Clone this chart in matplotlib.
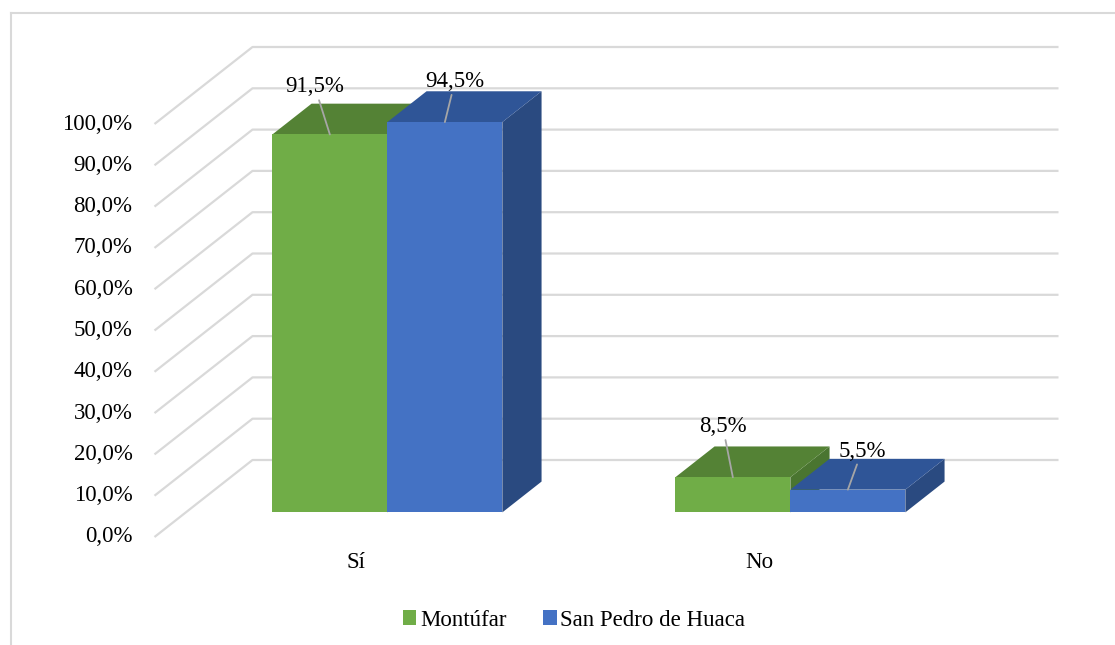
import matplotlib
matplotlib.use("Agg")
import matplotlib.pyplot as plt
from matplotlib.patches import Polygon, Patch
from matplotlib.lines import Line2D

# ---------------- data ----------------
categories = ["Sí", "No"]
series_names = ["Montúfar", "San Pedro de Huaca"]
montufar = [91.5, 8.5]
huaca = [94.5, 5.5]
value_labels = [["91,5%", "8,5%"], ["94,5%", "5,5%"]]
tick_values = [0, 10, 20, 30, 40, 50, 60, 70, 80, 90, 100]
tick_labels = ["0,0%", "10,0%", "20,0%", "30,0%", "40,0%", "50,0%",
               "60,0%", "70,0%", "80,0%", "90,0%", "100,0%"]

# ---------------- style / layout ----------------
W, H, DPI = 1115, 645, 100
X0_PX, PX_PER_CAT = 356.0, 403.0      # category 0 (front plane) pixel x, pixels per category
Y0_PX, PX_PER_PCT = 537.0, 4.13       # 0% (front plane) pixel y from top, pixels per percent
XLIM = (-0.85, 1.85)
YLIM = (-25.0, 125.0)
DX = 98.0 / PX_PER_CAT                # depth offset of the whole floor (category units)
DY = 77.0 / PX_PER_PCT                # depth offset of the whole floor (percent units)
D_FRONT, D_BACK = 0.32, 0.72          # bar depth range (fraction of floor depth)
BAR_W = 115.0 / PX_PER_CAT
face_colors = [
    {"front": "#70AD47", "top": "#548235", "side": "#4A7530"},
    {"front": "#4472C4", "top": "#2F5597", "side": "#2A4A80"},
]
grid_color = "#D9D9D9"
font = ["Liberation Serif", "DejaVu Serif"]
FS = 16.5
# label offsets (pixels, y upward) from the top-front-centre of each bar to the label bottom
label_offsets = [[(-15, 37), (-10, 40)], [(10, 30), (14, 28)]]

plt.rcParams["font.family"] = font

fig = plt.figure(figsize=(W / DPI, H / DPI), dpi=DPI)
left_px = X0_PX + XLIM[0] * PX_PER_CAT
right_px = X0_PX + XLIM[1] * PX_PER_CAT
bottom_px = Y0_PX - YLIM[0] * PX_PER_PCT
top_px = Y0_PX - YLIM[1] * PX_PER_PCT
ax = fig.add_axes([left_px / W, 1 - bottom_px / H,
                   (right_px - left_px) / W, (bottom_px - top_px) / H])
ax.set_xlim(*XLIM)
ax.set_ylim(*YLIM)
ax.axis("off")


def proj(c, v, d):
    return (c + d * DX, v + d * DY)


# walls / gridlines
x_left, x_right = -0.5, 1.5
for v, lab in zip(tick_values, tick_labels):
    p0 = proj(x_left, v, 0)
    p1 = proj(x_left, v, 1)
    p2 = proj(x_right, v, 1)
    ax.plot([p0[0], p1[0], p2[0]], [p0[1], p1[1], p2[1]],
            color=grid_color, lw=1.6, solid_capstyle="butt", zorder=1)
    ax.annotate(lab, xy=p0, xytext=(-22, 0), textcoords="offset pixels",
                ha="right", va="center", fontsize=FS, color="#000000")

# category labels
for i, cat in enumerate(categories):
    ax.annotate(cat, xy=proj(i, 0, 0), xytext=(0, -26), textcoords="offset pixels",
                ha="center", va="center", fontsize=FS)

# bars
series = [montufar, huaca]
z = 3
for i in range(len(categories)):
    for s, vals in enumerate(series):
        v = vals[i]
        c0 = i - BAR_W + s * BAR_W
        c1 = c0 + BAR_W
        cols = face_colors[s]
        side = [proj(c1, 0, D_FRONT), proj(c1, v, D_FRONT), proj(c1, v, D_BACK), proj(c1, 0, D_BACK)]
        top = [proj(c0, v, D_FRONT), proj(c1, v, D_FRONT), proj(c1, v, D_BACK), proj(c0, v, D_BACK)]
        front = [proj(c0, 0, D_FRONT), proj(c1, 0, D_FRONT), proj(c1, v, D_FRONT), proj(c0, v, D_FRONT)]
        for poly, key in [(side, "side"), (top, "top"), (front, "front")]:
            ax.add_patch(Polygon(poly, closed=True, facecolor=cols[key],
                                 edgecolor="none", zorder=z))
            z += 1
        anchor = proj((c0 + c1) / 2, v, D_FRONT)
        ax.annotate(value_labels[s][i], xy=anchor, xytext=label_offsets[s][i],
                    textcoords="offset pixels", ha="center", va="bottom",
                    fontsize=FS, zorder=50,
                    arrowprops=dict(arrowstyle="-", color="#A6A6A6", lw=1.3,
                                    shrinkA=0, shrinkB=0))

# legend
handles = [Patch(facecolor=face_colors[s]["front"], edgecolor="none") for s in range(2)]
fig.legend(handles, series_names, loc="center", bbox_to_anchor=(574 / W, 1 - 620 / H),
           ncol=2, frameon=False, fontsize=FS, handlelength=0.6, handleheight=0.6,
           handletextpad=0.15, columnspacing=1.6)

# outer chart border (top & left visible)
fig.add_artist(Line2D([10.5 / W, 1.0], [1 - 13 / H, 1 - 13 / H], color=grid_color, lw=1.5,
                      transform=fig.transFigure))
fig.add_artist(Line2D([10.5 / W, 10.5 / W], [0, 1 - 13 / H], color=grid_color, lw=1.5,
                      transform=fig.transFigure))

fig.savefig("out.png", dpi=DPI)
